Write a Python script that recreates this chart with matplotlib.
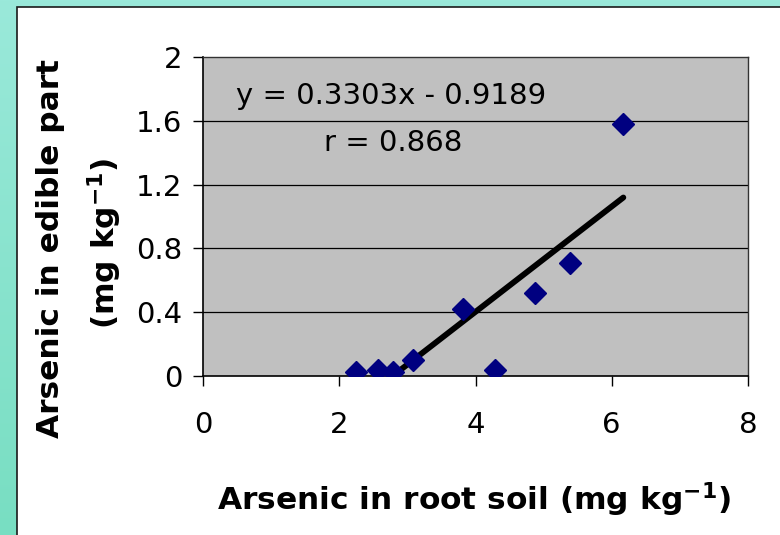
import matplotlib
matplotlib.use("Agg")
import matplotlib.pyplot as plt
import numpy as np

plt.rcParams["font.family"] = ["DejaVu Sans"]
plt.rcParams["mathtext.fontset"] = "dejavusans"

# soil arsenic vs arsenic in edible part
soil_as = [2.25, 2.57, 2.79, 3.08, 3.81, 4.28, 4.87, 5.39, 6.17]
edible_as = [0.025, 0.04, 0.025, 0.10, 0.42, 0.04, 0.52, 0.71, 1.58]
slope, intercept = 0.3303, -0.9189
x_ticks = [0, 2, 4, 6, 8]
y_ticks = [0, 0.4, 0.8, 1.2, 1.6, 2]
y_tick_labels = ["0", "0.4", "0.8", "1.2", "1.6", "2"]

W, H = 780, 535
fig = plt.figure(figsize=(W / 100, H / 100), dpi=100)

# teal frame with slight vertical gradient
bg = fig.add_axes([0, 0, 1, 1], zorder=-10)
grad = np.linspace(0, 1, 256).reshape(-1, 1)
cmap = matplotlib.colors.LinearSegmentedColormap.from_list("frame", ["#9AE9DA", "#78DEC2"])
bg.imshow(grad, aspect="auto", cmap=cmap, extent=[0, 1, 0, 1])
bg.add_patch(plt.Rectangle((17 / W, -0.01), 1, 1.01 - 7 / H, facecolor="white",
                           edgecolor="#1a1a1a", linewidth=1.2))
bg.set_xlim(0, 1)
bg.set_ylim(0, 1)
bg.axis("off")

ax = fig.add_axes([203 / W, (H - 376) / H, (748 - 203) / W, (376 - 57) / H])
ax.set_facecolor("#C0C0C0")
for t in y_ticks[1:-1]:
    ax.axhline(t, color="black", linewidth=0.9, zorder=1)

x_fit = np.array([min(soil_as), max(soil_as)])
ax.plot(x_fit, slope * x_fit + intercept, color="black", linewidth=4.2,
        solid_capstyle="round", zorder=3)
ax.plot(soil_as, edible_as, linestyle="none", marker="D", markersize=11,
        color="#000080", zorder=4)

ax.set_xlim(0, 8)
ax.set_ylim(0, 2)
ax.set_xticks(x_ticks)
ax.set_yticks(y_ticks)
ax.set_yticklabels(y_tick_labels)
ax.tick_params(direction="out", length=7, width=1, labelsize=21)
ax.tick_params(axis="y", pad=8)
ax.tick_params(axis="x", pad=18)
for side in ["top", "right"]:
    ax.spines[side].set_color("#333333")
    ax.spines[side].set_linewidth(1)
for side in ["left", "bottom"]:
    ax.spines[side].set_color("black")
    ax.spines[side].set_linewidth(1.2)

ax.text(0.345, 0.878, "y = 0.3303x - 0.9189", transform=ax.transAxes,
        ha="center", va="center", fontsize=21)
ax.text(0.349, 0.730, "r = 0.868", transform=ax.transAxes,
        ha="center", va="center", fontsize=21)

fig.text(474 / W, 1 - 500 / H, r"Arsenic in root soil (mg kg$^{\mathbf{-1}}$)",
         ha="center", va="center", fontsize=22.5, fontweight="bold")
fig.text(51 / W, 1 - 249 / H, "Arsenic in edible part", rotation=90,
         ha="center", va="center", fontsize=22.5, fontweight="bold")
fig.text(105 / W, 1 - 243 / H, r"(mg kg$^{\mathbf{-1}}$)", rotation=90,
         ha="center", va="center", fontsize=22.5, fontweight="bold")

fig.savefig("out.png", dpi=100)
